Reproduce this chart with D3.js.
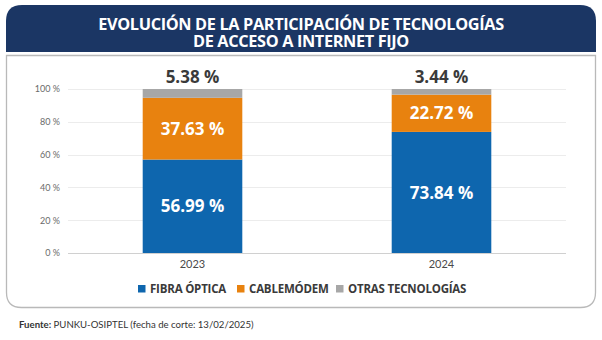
<!DOCTYPE html>
<html>
<head>
<meta charset="utf-8">
<script src="https://cdn.jsdelivr.net/npm/d3@7"></script>
<style>
  html, body { margin: 0; padding: 0; background: #fff; }
  svg { display: block; font-family: Lato, "Open Sans", sans-serif; }
</style>
</head>
<body>
<svg id="chart" width="602" height="340"></svg>
<script>
// data
const years = ['2023', '2024']
const fibra = [56.99, 73.84]
const cable = [37.63, 22.72]
const otras = [5.38, 3.44]
const seriesNames = ['FIBRA ÓPTICA', 'CABLEMÓDEM', 'OTRAS TECNOLOGÍAS']
const yTicks = [0, 20, 40, 60, 80, 100]

const colors = ['#0e66ae', '#e8820f', '#a7a7a7']

const svg = d3.select('#chart')
const W = 602

// panel with grey border, rounded bottom
const px0 = 6.5, px1 = 595.5, py0 = 55.5, py1 = 307.5, r = 15
svg.append('path')
    .attr('d', `M${px0},${py0} H${px1} V${py1 - r} Q${px1},${py1} ${px1 - r},${py1} H${px0 + r} Q${px0},${py1} ${px0},${py1 - r} Z`)
    .attr('fill', '#fff')
    .attr('stroke', '#b9b9b9')
    .attr('stroke-width', 1.3)

// header, rounded top
const hx0 = 6, hx1 = 596, hy0 = 5, hy1 = 52, hr = 16
svg.append('path')
    .attr('d', `M${hx0},${hy1} V${hy0 + hr} Q${hx0},${hy0} ${hx0 + hr},${hy0} H${hx1 - hr} Q${hx1},${hy0} ${hx1},${hy0 + hr} V${hy1} Z`)
    .attr('fill', '#1b3664')

// title, two separate lines
const titleLines = ['EVOLUCIÓN DE LA PARTICIPACIÓN DE TECNOLOGÍAS', 'DE ACCESO A INTERNET FIJO']
svg.append('g')
    .selectAll('text')
    .data(titleLines)
    .join('text')
    .attr('x', W / 2)
    .attr('y', (d, i) => 30 + i * 16.5)
    .attr('text-anchor', 'middle')
    .attr('fill', '#fff')
    .attr('font-family', '"Open Sans", sans-serif')
    .attr('font-weight', 700)
    .attr('font-size', 16.3)
    .attr('letter-spacing', -0.35)
    .text(d => d)

// scales
const x = d3.scaleBand().domain(years).range([68, 566]).paddingInner(0.6).paddingOuter(0.3)
const y = d3.scaleLinear().domain([0, 100]).range([253, 89])

// grid
svg.append('g')
    .selectAll('line')
    .data(yTicks)
    .join('line')
    .attr('x1', 68).attr('x2', 566)
    .attr('y1', d => Math.round(y(d)) + 0.5).attr('y2', d => Math.round(y(d)) + 0.5)
    .attr('stroke', d => d === 0 ? '#d0d0d0' : '#ececec')
    .attr('stroke-width', 1)

// y axis labels
const yAxis = svg.append('g')
    .attr('transform', 'translate(60,0)')
    .call(d3.axisLeft(y).tickValues(yTicks).tickSize(0).tickPadding(0).tickFormat(d => d + ' %'))
yAxis.select('.domain').remove()
yAxis.selectAll('text')
    .attr('font-family', 'Lato, sans-serif')
    .attr('font-size', 9)
    .attr('fill', '#6a6a6a')

// stacked bars
const rows = years.map((yr, i) => ({ year: yr, fibra: fibra[i], cable: cable[i], otras: otras[i] }))
const stack = d3.stack().keys(['fibra', 'cable', 'otras'])(rows)

svg.append('g')
    .selectAll('g')
    .data(stack)
    .join('g')
    .attr('fill', (d, i) => colors[i])
    .selectAll('rect')
    .data(d => d)
    .join('rect')
    .attr('x', d => x(d.data.year))
    .attr('width', x.bandwidth())
    .attr('y', d => y(d[1]))
    .attr('height', d => y(d[0]) - y(d[1]))

const fmt = v => v.toFixed(2) + ' %'

// inside labels (fibra, cable)
stack.slice(0, 2).forEach(layer => {
    svg.append('g')
        .selectAll('text')
        .data(layer)
        .join('text')
        .attr('x', d => x(d.data.year) + x.bandwidth() / 2)
        .attr('y', d => (y(d[0]) + y(d[1])) / 2)
        .attr('dy', '0.36em')
        .attr('text-anchor', 'middle')
        .attr('fill', '#fff')
        .attr('font-family', '"Open Sans", sans-serif')
        .attr('font-weight', 700)
        .attr('font-size', 17)
        .text(d => fmt(d.data[layer.key]))
})

// top labels (otras)
svg.append('g')
    .selectAll('text')
    .data(stack[2])
    .join('text')
    .attr('x', d => x(d.data.year) + x.bandwidth() / 2)
    .attr('y', d => y(d[1]) - 12)
    .attr('dy', '0.36em')
    .attr('text-anchor', 'middle')
    .attr('fill', '#3a3a3a')
    .attr('font-family', '"Open Sans", sans-serif')
    .attr('font-weight', 700)
    .attr('font-size', 17)
    .text(d => fmt(d.data.otras))

// x labels
svg.append('g')
    .selectAll('text')
    .data(years)
    .join('text')
    .attr('x', d => x(d) + x.bandwidth() / 2)
    .attr('y', 268)
    .attr('text-anchor', 'middle')
    .attr('fill', '#4a4a4a')
    .attr('font-size', 11)
    .text(d => d)

// legend
const legendX = [138, 237, 336]
const legend = svg.append('g')
    .selectAll('g')
    .data(seriesNames)
    .join('g')
    .attr('transform', (d, i) => `translate(${legendX[i]},289)`)
legend.append('rect')
    .attr('x', 0).attr('y', -4).attr('width', 7.5).attr('height', 7.5)
    .attr('fill', (d, i) => colors[i])
legend.append('text')
    .attr('x', 12)
    .attr('dy', '0.36em')
    .attr('fill', '#3a3a3a')
    .attr('font-family', '"Open Sans", sans-serif')
    .attr('font-weight', 700)
    .attr('font-size', 11.5)
    .attr('letter-spacing', -0.2)
    .text(d => d)

// source
const src = svg.append('text')
    .attr('x', 19).attr('y', 328)
    .attr('fill', '#333')
    .attr('font-size', 9.6)
src.append('tspan').attr('font-weight', 700).text('Fuente:')
src.append('tspan').text(' PUNKU-OSIPTEL (fecha de corte: 13/02/2025)')
</script>
</body>
</html>
